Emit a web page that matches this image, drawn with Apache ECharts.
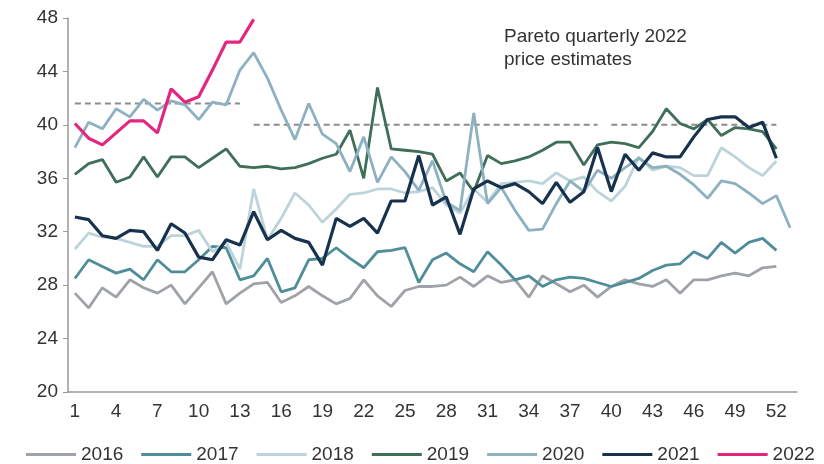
<!DOCTYPE html>
<html>
<head>
<meta charset="utf-8">
<script src="https://cdn.jsdelivr.net/npm/echarts@6/dist/echarts.min.js"></script>
<style>
  html, body { margin: 0; padding: 0; background: #fff; }
  #chart { width: 824px; height: 464px; }
</style>
</head>
<body>
<div id="chart"></div>
<script>
// week numbers 1..53
var weeks = [];
for (var i = 1; i <= 53; i++) weeks.push(String(i));

var y2016 = [27.4, 26.3, 27.8, 27.1, 28.4, 27.8, 27.4, 28.0, 26.6, 27.8, 29.0, 26.6, 27.4, 28.1, 28.2, 26.7, 27.2, 27.9, 27.2, 26.6,
  27.0, 28.4, 27.2, 26.4, 27.6, 27.9, 27.9, 28.0, 28.6, 27.9, 28.7, 28.2, 28.4, 27.1, 28.7, 28.1, 27.5, 28.0, 27.1, 27.9,
  28.4, 28.1, 27.9, 28.4, 27.4, 28.4, 28.4, 28.7, 28.9, 28.7, 29.3, 29.4];
var y2017 = [28.5, 29.9, 29.4, 28.9, 29.2, 28.4, 29.9, 29.0, 29.0, 29.9, 30.9, 30.8, 28.4, 28.7, 30.0, 27.5, 27.8, 29.9, 30.0, 30.8,
  30.0, 29.3, 30.5, 30.6, 30.8, 28.2, 29.9, 30.4, 29.6, 29.0, 30.5, 29.5, 28.4, 28.7, 27.9, 28.4, 28.6, 28.5, 28.2, 27.9,
  28.2, 28.5, 29.1, 29.5, 29.6, 30.5, 30.0, 31.2, 30.4, 31.2, 31.5, 30.6];
var y2018 = [30.7, 31.9, 31.6, 31.5, 31.2, 30.9, 30.9, 31.7, 31.7, 32.1, 30.5, 31.2, 29.2, 35.2, 31.4, 33.0, 34.9, 34.0, 32.7, 33.7,
  34.8, 34.9, 35.2, 35.2, 34.9, 35.0, 35.3, 34.0, 33.4, 35.2, 34.2, 35.6, 35.7, 35.8, 35.6, 36.4, 35.8, 36.1, 35.0, 34.3,
  35.4, 37.6, 36.6, 36.9, 36.8, 36.2, 36.2, 38.3, 37.6, 36.8, 36.2, 37.3];
var y2019 = [36.3, 37.1, 37.4, 35.7, 36.1, 37.6, 36.1, 37.6, 37.6, 36.8, 37.5, 38.2, 36.9, 36.8, 36.9, 36.7, 36.8, 37.1, 37.5, 37.8,
  39.6, 36.0, 42.8, 38.2, 38.1, 38.0, 37.8, 35.8, 36.4, 35.0, 37.7, 37.1, 37.3, 37.6, 38.1, 38.7, 38.7, 37.0, 38.5, 38.7,
  38.6, 38.3, 39.5, 41.2, 40.1, 39.7, 40.4, 39.2, 39.8, 39.7, 39.5, 38.2];
var y2020 = [38.3, 40.2, 39.7, 41.2, 40.6, 41.9, 41.1, 41.8, 41.5, 40.4, 41.7, 41.5, 44.1, 45.4, 43.5, 41.1, 38.9, 41.6, 39.3, 38.6,
  36.5, 39.1, 35.7, 37.6, 36.5, 35.1, 37.3, 34.2, 33.6, 40.9, 34.1, 35.3, 33.6, 32.1, 32.2, 34.1, 35.8, 35.0, 36.6, 36.0,
  36.8, 37.5, 36.8, 36.9, 36.3, 35.5, 34.5, 35.8, 35.6, 34.9, 34.1, 34.7, 32.3];
var y2021 = [33.1, 32.9, 31.7, 31.5, 32.1, 32.0, 30.6, 32.6, 31.9, 30.1, 29.9, 31.4, 31.0, 33.5, 31.4, 32.1, 31.5, 31.2, 29.5, 33.0,
  32.4, 33.0, 31.9, 34.3, 34.3, 37.7, 34.0, 34.6, 31.8, 35.2, 35.8, 35.3, 35.6, 35.0, 34.1, 35.7, 34.2, 35.0, 38.3, 35.0,
  37.8, 36.6, 37.9, 37.6, 37.6, 39.1, 40.4, 40.6, 40.6, 39.8, 40.2, 37.5];
var y2022 = [40.1, 39.0, 38.5, 39.4, 40.3, 40.3, 39.4, 42.7, 41.7, 42.1, 44.1, 46.2, 46.2, 47.9];

// Pareto quarterly estimates (week ranges and level)
var estStart = [1, 14, 40];
var estEnd = [13, 39, 52];
var estValue = [41.6, 40, 40];

var years = ['2016', '2017', '2018', '2019', '2020', '2021', '2022'];
var yearData = [y2016, y2017, y2018, y2019, y2020, y2021, y2022];
var colors = ['#9fa3a7', '#4e8d99', '#bdd3da', '#3f6f58', '#8db1c1', '#17324d', '#e3267f'];

var series = [];
for (var e = 0; e < estValue.length; e++) {
  var d = [];
  for (var w = 1; w <= 53; w++) {
    d.push(w >= estStart[e] && w <= estEnd[e] ? estValue[e] : null);
  }
  series.push({
    type: 'line',
    data: d,
    symbol: 'none',
    silent: true,
    lineStyle: { color: '#8c8c8c', width: 2, type: [6, 4] },
    z: 1
  });
}
years.forEach(function (y, k) {
  series.push({
    name: y,
    type: 'line',
    data: yearData[k],
    symbol: 'none',
    lineStyle: { width: k >= 5 ? 3.2 : 2.8, color: colors[k] },
    itemStyle: { color: colors[k] },
    z: 2 + k
  });
});

var chart = echarts.init(document.getElementById('chart'));
chart.setOption({
  animation: false,
  color: colors,
  grid: { left: 68, right: 27, top: 18, bottom: 72 },
  graphic: [{
    type: 'text',
    left: 504,
    top: 25,
    style: {
      text: 'Pareto quarterly 2022\nprice estimates',
      font: '19px "Liberation Sans", Arial, sans-serif',
      lineHeight: 23,
      fill: '#333'
    }
  }],
  legend: {
    data: years,
    left: 21,
    top: 440,
    width: 803,
    icon: 'rect',
    itemWidth: 50,
    itemHeight: 3,
    itemGap: 18,
    textStyle: { fontSize: 19, color: '#333', fontFamily: 'Liberation Sans' }
  },
  xAxis: {
    type: 'category',
    data: weeks,
    boundaryGap: true,
    axisLine: { lineStyle: { color: '#999', width: 1.5 } },
    axisTick: { interval: 0, length: 5, lineStyle: { color: '#999' } },
    axisLabel: { interval: 2, fontSize: 19, color: '#333', margin: 10, fontFamily: 'Liberation Sans' }
  },
  yAxis: {
    type: 'value',
    min: 20,
    max: 48,
    interval: 4,
    axisLine: { show: true, lineStyle: { color: '#999', width: 1.5 } },
    axisTick: { show: true, length: 5, lineStyle: { color: '#999' } },
    splitLine: { show: false },
    axisLabel: { fontSize: 19, color: '#333', margin: 10, fontFamily: 'Liberation Sans' }
  },
  series: series
});
</script>
</body>
</html>
